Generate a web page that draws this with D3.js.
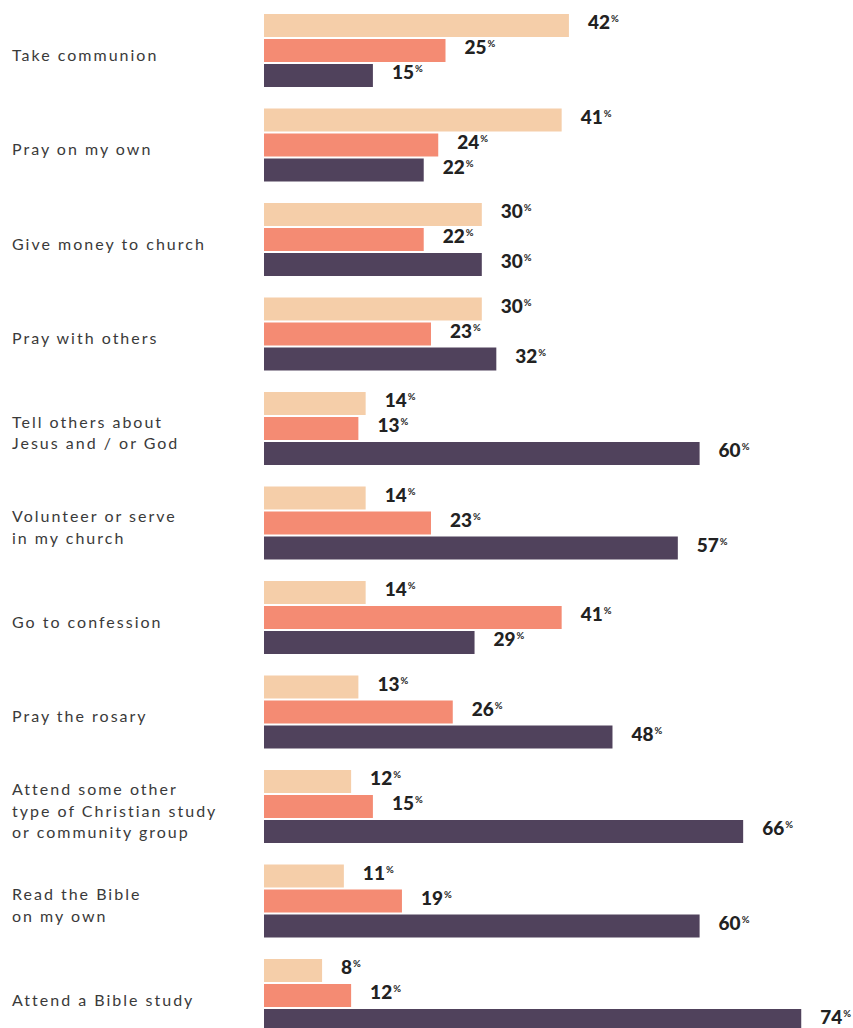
<!DOCTYPE html>
<html>
<head>
<meta charset="utf-8">
<script src="https://cdn.jsdelivr.net/npm/d3@7"></script>
<style>
  html, body { margin: 0; padding: 0; background: #fff; }
  svg { display: block; }
</style>
</head>
<body>
<svg id="chart" width="853" height="1028"></svg>
<script>
// Activity categories (label lines) and the three series of percentages
const categories = [
  ["Take communion"],
  ["Pray on my own"],
  ["Give money to church"],
  ["Pray with others"],
  ["Tell others about", "Jesus and / or God"],
  ["Volunteer or serve", "in my church"],
  ["Go to confession"],
  ["Pray the rosary"],
  ["Attend some other", "type of Christian study", "or community group"],
  ["Read the Bible", "on my own"],
  ["Attend a Bible study"]
];
const seriesLight  = [42, 41, 30, 30, 14, 14, 14, 13, 12, 11, 8];
const seriesSalmon = [25, 24, 22, 23, 13, 23, 41, 26, 15, 19, 12];
const seriesDark   = [15, 22, 30, 32, 60, 57, 29, 48, 66, 60, 74];
const seriesColors = ["#F5CEA9", "#F48B73", "#50425C"];

const svg = d3.select("#chart");
const allSeries = [seriesLight, seriesSalmon, seriesDark];

const x = d3.scaleLinear().domain([0, 100]).range([264, 264 + 726]);
const y = d3.scaleBand()
  .domain(d3.range(categories.length))
  .range([14, 14 + 94.5 * categories.length])
  .padding(0);
const ySub = d3.scaleBand().domain([0, 1, 2]).range([0, 73]).paddingInner(0.08);

const groups = svg.selectAll("g.group")
  .data(categories.map((lines, i) => ({ lines, i })))
  .join("g")
  .attr("class", "group")
  .attr("transform", d => `translate(0,${y(d.i)})`);

// Category labels, vertically centred on the bar cluster
groups.append("text")
  .attr("font-family", "Lato, 'Open Sans', sans-serif")
  .attr("font-size", 16)
  .attr("letter-spacing", "2px")
  .attr("fill", "#3a3a3a")
  .each(function (d) {
    const t = d3.select(this);
    const lh = 21.5;
    const mid = 73 / 2 + 4;
    const first = mid - (d.lines.length - 1) * lh / 2 + 6;
    d.lines.forEach((ln, k) => {
      t.append("tspan").attr("x", 12).attr("y", first + k * lh).text(ln);
    });
  });

// Bars
groups.selectAll("rect")
  .data(d => allSeries.map((s, k) => ({ k, v: s[d.i] })))
  .join("rect")
  .attr("x", x(0))
  .attr("y", d => ySub(d.k))
  .attr("width", d => x(d.v) - x(0))
  .attr("height", ySub.bandwidth())
  .attr("fill", d => seriesColors[d.k]);

// Value labels
const vl = groups.selectAll("text.val")
  .data(d => allSeries.map((s, k) => ({ k, v: s[d.i] })))
  .join("text")
  .attr("class", "val")
  .attr("x", d => x(d.v) + 19)
  .attr("y", d => ySub(d.k) + ySub.bandwidth() / 2 + 3.8)
  .attr("font-family", "Lato, 'Open Sans', sans-serif")
  .attr("font-weight", 900)
  .attr("font-size", 19)
  .attr("fill", "#222");
vl.append("tspan").text(d => d.v);
vl.append("tspan")
  .attr("font-size", 9.5)
  .attr("font-weight", 700)
  .attr("dy", -7)
  .attr("dx", 1)
  .text("%");
</script>
</body>
</html>
